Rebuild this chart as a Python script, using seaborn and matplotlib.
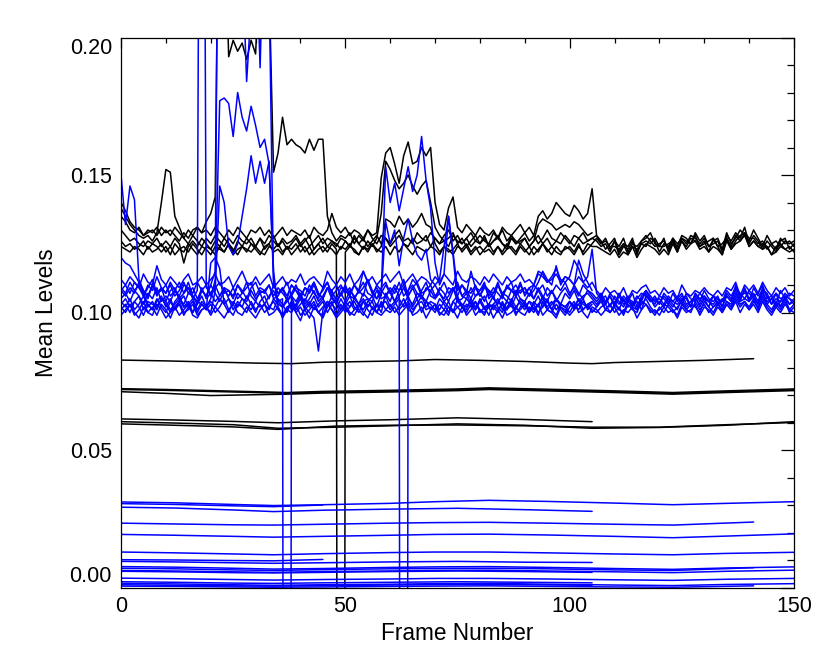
import numpy as np
import pandas as pd
import matplotlib
matplotlib.use("Agg")
import matplotlib.pyplot as plt
import seaborn as sns
from matplotlib.ticker import FixedLocator, MultipleLocator, FormatStrFormatter

# All level values below are listed in thousandths (1 unit = 0.001).
UNIT = 1e-3

X_LABEL = "Frame Number"
Y_LABEL = "Mean Levels"
X_TICKS = [0, 50, 100, 150]
Y_TICKS = [0.00, 0.05, 0.10, 0.15, 0.20]

# ---------------- noisy black series (one value per frame, starting at frame 0)
black_1 = [140,137,133,131,130,128,129,130,128,131,
           129,130,128,126,129,127,130,131,129,133,
           136,142,300,250,193,199,195,198,192,199,
           194,230,260,220,151,158,171,161,163,161,
           160,158,163,159,163,163,135,129,126,128,
           127,129,125,128,126,130,127,125,128,127,
           125,128,130,126,127,125,129,127,126,129,
           127,125,128,130,126,128,125,127,129,126,
           128,126,125,129,127,130,126,128,125,127,
           129,126,128,125,127,130,127,126,129,127,
           125,128,127,129,126,127,128,125,127,123,
           126,124,127,122,125,124,126,127,129,125,
           124,127,122,126,124,128,127,125,129,126,
           128,124,126,127,123,129,125,127,130,128,
           126,130,127,124,128,125,123,127,125,126,124]
black_2 = [138,135,132,130,128,127,128,126,129,140,
           152,151,135,131,127,125,128,126,124,127,
           125,128,126,124,127,125,128,126,125,127,
           124,127,125,128,126,124,127,125,126,128,
           125,127,124,126,128,125,127,126,124,127,
           126,124,128,125,127,124,126,128,125,127,
           124,126,128,125,124,127,125,126,128,124,
           127,125,126,124,128,126,125,127,124,126,
           125,128,124,126,127,125,124,128,126,125,
           127,124,126,128,125,127,124,126,125,128,
           126,124,127,125,126,127,126,124,125,122,
           126,121,124,123,126,122,125,124,127,126,
           122,125,124,127,123,126,124,127,126,124,
           126,122,127,124,121,127,123,126,128,129,
           124,126,124,125,124,121,124,125,123,124,122]
black_3 = [135,133,130,129,131,128,130,129,131,128,
           130,128,131,129,127,130,128,131,129,130,
           128,131,129,127,130,128,131,129,127,130,
           129,131,128,130,127,129,131,128,130,129,
           128,130,127,131,129,128,130,136,131,129,
           131,128,130,129,127,130,128,129,149,158,
           160,154,147,157,162,154,155,160,157,160,
           140,132,130,138,142,131,129,132,130,128,
           131,129,128,130,127,131,129,128,130,132,
           129,131,128,135,137,134,136,140,138,136,
           135,139,137,134,136,145,128,126,123,125,
           127,122,125,124,127,121,126,128,126,124,
           125,126,123,127,125,127,125,128,127,125,
           127,124,125,126,122,128,126,129,127,131,
           125,128,126,123,126,124,122,126,127,123,125]
black_4 = [130,128,126,127,125,124,126,125,127,124,
           126,124,127,125,118,124,126,124,127,125,
           123,126,124,127,125,122,126,124,127,125,
           124,127,123,125,128,124,126,123,125,127,
           124,126,128,123,125,127,124,126,125,123,
           126,124,127,125,123,126,124,127,136,155,
           152,148,145,147,150,146,143,146,148,140,
           131,128,126,127,129,125,127,124,126,128,
           125,127,124,126,128,125,123,127,125,126,
           127,124,126,132,134,133,132,130,131,132,
           131,133,132,130,128,129]
black_5 = [126,124,125,123,124,126,123,125,124,122,
           124,121,125,123,122,125,123,121,124,123,
           121,124,123,122,125,121,123,124,122,125,
           123,121,124,125,122,123,121,124,123,125,
           122,124,121,123,125,122,124,123,121,124,
           123,125,122,121,124,123,125,122,124,134,
           133,131,135,132,134,131,133,136,132,131,
           125,122,124,123,121,124,123,125,122,124,
           121,123,125,122,124,121,123,124,122,125,
           123,121,124,122,125,123,121,124,122,123,
           124,122,125,121,123,125,127,125,126,124,
           124,123,125,121,124,123,125,126,125,127,
           124,124,125,126,122,127,126,125,128,124,
           125,126,127,124,125,127,124,128,126,129,
           127,127,125,126,123,125,126,124,126,125,126]
black_6 = [124,123,122,124,123,121,124,122,123,125,
           122,124,121,123,124,122,125,123,121,124,
           123,121,124,122,125,123,121,124,123,122,
           124,122,121,124,123,125,122,124,121,123,
           125,122,124,121,123,124,122,125,123,-1000,
           122,124,123,121,124,122,125,123,122,124,
           121,124,122,125,123,121,124,123,122,124,
           123,121,124,122,123,125,122,124,121,123,
           124,122,123,121,124,122,125,123,121,124,
           122,124,121,123,125,122,124,122,121,124,
           123,121,124,122,125,124,124,123,122,121,
           123,120,122,121,124,120,123,125,124,123,
           121,123,121,125,122,126,123,125,126,123,
           124,122,124,123,121,126,123,125,126,128,
           124,126,124,123,124,121,122,124,123,122,123]

# ---------------- noisy blue series (one value per frame, starting at frame 0)
blue_1 = [150,132,146,141,112,108,105,110,106,109,
          104,108,109,105,107,111,106,103,108,106,
          110,107,104,108,106,109,105,107,111,106,
          104,108,107,110,105,106,109,104,107,110,
          106,104,108,111,107,105,109,108,104,107,
          110,106,105,108,106,112,108,105,107,110,
          107,104,108,110,106,109,105,108,111,106,
          105,109,107,104,108,110,106,105,109,106,
          108,111,105,107,110,106,104,108,107,111,
          106,109,105,108,110,106,108,104,107,109,
          106,110,107,105,108,106,104,106,103,107,
          105,103,106,104,107,102,106,108,105,103,
          106,105,103,107,104,106,105,102,107,104,
          108,105,104,106,102,107,105,108,104,109,
          105,107,104,109,106,103,107,105,106,103,105]
blue_2 = [120,118,117,114,111,107,103,101,104,106,
          102,105,101,104,106,102,100,104,103,101,
          118,120,116,103,105,101,104,102,106,103,
          100,104,106,102,101,105,103,100,104,102,
          105,101,103,106,102,104,100,103,105,101,
          103,106,102,100,104,105,101,103,102,106,
          102,104,101,103,106,102,105,100,104,103,
          101,105,103,100,104,106,102,101,105,102,
          104,101,103,106,102,100,104,103,101,105,
          103,100,104,102,106,101,103,105,102,100,
          104,102,105,101,103,104,102,105,101,103,
          104,101,105,102,103,104,101,106,105,102,
          104,102,105,103,101,105,102,104,106,102,
          105,104,102,103,105,104,103,107,104,105,
          104,106,103,107,104,105,102,104,105,103,104]
blue_3 = [109,107,111,108,110,106,109,112,107,108,
          110,106,108,111,107,109,105,108,500,109,
          107,110,106,109,108,105,110,107,109,111,
          106,109,108,105,110,107,108,111,106,109,
          108,106,110,107,105,109,111,106,108,110,
          107,109,105,108,111,107,106,110,108,106,
          109,107,111,106,108,110,107,105,109,108,
          110,107,105,109,108,111,106,108,107,110,
          106,109,108,105,110,107,109,111,106,108,
          109,106,110,108,105,109,107,110,108,111,
          107,109,106,110,108,107,105,107,104,106,
          103,107,104,106,102,105,107,106,104,105,
          103,107,105,104,106,103,107,105,104,107,
          105,102,106,105,104,108,106,109,107,105,
          108,106,107,110,105,106,103,108,105,107,106]
blue_4 = [104,102,105,101,103,106,102,104,101,105,
          103,100,104,106,102,103,105,101,104,102,
          105,112,177,178,176,164,180,171,166,175,
          168,160,163,154,112,104,102,105,101,103,
          106,102,104,101,103,105,102,106,103,101,
          104,102,105,103,101,104,106,102,107,153,
          140,147,137,145,153,144,150,164,148,138,
          118,110,114,135,121,104,102,105,103,101,
          104,106,102,103,105,101,104,102,106,103,
          101,104,103,106,102,104,101,105,103,102,
          104,101,105,103,102,104]
blue_5 = [102,100,103,99,101,104,100,102,99,103,
          101,98,102,104,100,101,103,99,101,102,
          100,108,146,140,124,121,125,135,145,157,
          147,155,147,155,115,102,99,101,104,100,
          102,99,101,103,100,98,102,104,99,101,
          103,100,99,102,104,101,99,103,100,107,
          104,109,106,-1000,108,112,110,106,104,101,
          103,99,101,104,100,102,103,99,101,104,
          100,102,99,103,101,98,102,104,100,101,
          103,100,102,99,104,101,100,103,101,99,
          102,104,100,101,103,100,102,104,101,103,
          100,102,99,103,101,100,104,103,101,99,
          102,100,103,101,99,103,101,100,104,101,
          103,100,102,104,100,103,101,105,102,104,
          101,104,102,105,102,100,103,101,104,100,102]
blue_6 = [108,110,107,111,109,106,110,108,113,109,
          107,111,108,106,110,109,107,111,108,106,
          110,115,350,250,220,240,210,230,184,210,
          240,189,250,220,110,107,109,106,110,108,
          105,109,107,110,106,108,111,107,105,109,
          108,106,110,107,109,112,107,105,109,111,
          107,110,108,112,106,109,111,107,108,110,
          106,108,111,107,109,106,110,108,105,109,
          108,110,106,109,107,105,110,108,106,110,
          107,109,110,115,114,111,113,116,112,111,
          113,119,116,111,113,123,107,105,103,106,
          102,106,103,105,104,101,105,107,104,106,
          103,106,104,102,105,107,103,104,105,103,
          106,104,103,105,102,106,104,110,105,108,
          104,109,106,108,103,105,107,102,106,105,103]
blue_7 = [105,107,104,108,106,103,107,105,109,104,
          106,104,108,105,103,107,106,104,109,105,
          107,104,106,109,105,103,107,105,104,108,
          105,107,103,106,108,104,105,-1000,106,104,
          107,103,105,108,104,106,109,105,103,107,
          104,108,106,103,107,105,104,108,105,106,
          108,104,106,109,105,103,107,106,104,108,
          105,107,104,106,109,104,105,107,103,106,
          107,104,108,105,103,107,106,104,108,105,
          104,107,105,109,106,104,108,105,103,107,
          105,108,104,106,107,105,103,105,106,102,
          106,104,102,105,103,106,104,108,106,104,
          105,103,106,104,103,105,106,102,107,105,
          106,104,106,103,104,106,104,109,106,107,
          107,105,103,108,107,103,105,104,107,105,104]
blue_8 = [101,103,100,104,102,99,103,101,105,102,
          100,104,101,103,99,102,104,100,103,101,
          103,100,102,105,101,99,103,102,100,104,
          101,103,100,102,104,101,99,102,103,100,
          97,102,100,98,86,101,104,101,99,103,
          100,102,104,101,99,103,102,100,104,101,
          103,100,102,105,101,100,103,104,101,102,
          100,103,101,99,104,102,100,103,102,104,
          101,99,103,102,100,104,101,103,99,102,
          104,101,103,100,102,105,101,99,103,102,
          100,103,101,104,102,101,100,102,103,100,
          103,101,100,104,102,101,103,105,102,100,
          101,103,102,100,102,104,101,103,102,100,
          104,102,100,103,101,104,102,106,103,104,
          102,105,101,106,103,101,104,102,105,101,103]
blue_9 = [108,106,109,107,111,108,106,110,107,109,
          107,110,106,108,111,107,109,105,108,110,
          106,109,111,107,108,106,110,108,105,109,
          111,107,108,110,106,109,107,105,110,108,
          106,109,108,111,107,105,109,108,110,106,
          109,107,110,108,115,111,107,109,106,133,
          125,130,117,127,134,126,121,119,123,112,
          110,112,124,135,122,108,110,107,115,109,
          106,110,108,107,111,106,109,108,110,107,
          109,106,108,111,115,112,110,117,110,113,
          112,110,119,114,111,108]
blue_10 = [99,101,103,100,98,102,100,99,103,101,
           98,100,102,99,101,103,99,98,101,102,
           99,102,100,98,101,103,100,99,102,100,
           98,101,103,99,100,102,98,101,100,103,
           99,101,98,102,100,99,103,101,98,100,
           102,99,101,103,100,98,102,100,99,101,
           100,102,99,101,103,99,100,102,98,101,
           103,100,99,102,101,98,102,100,103,99,
           101,100,102,98,101,103,99,100,102,100,
           99,102,100,103,99,101,100,98,102,101,
           99,101,103,100,98,102,101,99,101,100,
           102,99,101,100,102,98,101,103,100,101,
           99,102,100,101,98,102,100,101,103,99,
           102,101,99,102,100,103,101,104,100,103,
           101,103,100,104,101,99,102,100,103,101,100]
blue_11 = [112,110,113,111,109,114,111,110,117,112,
           110,113,111,109,112,114,110,111,113,110,
           112,114,110,111,113,109,112,115,111,110,
           113,110,112,114,109,111,113,110,112,111,
           114,110,112,113,111,109,115,112,110,113,
           111,114,110,112,115,111,113,110,112,114,
           111,113,115,110,112,114,111,113,112,110,
           113,111,114,112,110,115,112,111,113,112,
           110,113,111,114,112,110,113,111,112,114,
           111,112,110,114,113,111,112,114,111,113,
           112,110,113,111,109,111,108,106,109,107,
           108,106,109,105,108,107,109,110,107,108,
           106,109,107,108,105,110,107,106,108,107,
           109,107,106,108,106,109,108,111,106,110,
           108,110,107,111,108,106,109,107,109,106,108]
blue_12 = [103,105,102,104,106,101,104,103,102,105,
           104,101,103,105,102,104,100,103,106,102,
           104,102,105,103,100,104,102,105,103,101,
           104,102,103,101,105,103,102,104,106,101,
           103,105,102,104,100,102,104,103,101,105,
           102,104,101,103,105,102,104,100,103,104,
           101,103,105,102,104,101,103,106,102,104,
           103,101,104,102,100,105,103,102,104,101,
           105,102,103,101,104,103,101,105,102,104,
           102,104,101,103,105,102,104,101,103,102,
           104,102,103,105,101,103]

# ---------------- smooth black series (frame, level)
flat_frames_a = [0, 10, 20, 30, 38, 45, 55, 62, 70, 80, 90, 100, 105, 110, 120, 130, 141]
black_flat_1 = [82.7, 82.4, 82.0, 81.6, 81.4, 81.9, 82.2, 82.4, 82.9, 82.6, 82.2, 81.6, 81.4, 81.8, 82.2, 82.6, 83.2]
flat_frames_b = [0, 10, 20, 30, 37, 45, 60, 75, 82, 95, 110, 123, 135, 150]
black_flat_2 = [72.0, 71.7, 71.3, 70.9, 70.6, 71.0, 71.4, 71.9, 72.3, 71.8, 71.2, 70.6, 71.2, 71.9]
black_flat_3 = [71.2, 70.6, 69.8, 70.1, 70.3, 70.7, 71.1, 71.6, 72.0, 71.5, 70.9, 70.3, 70.9, 71.6]
black_flat_4 = [72.3, 72.0, 71.6, 71.2, 70.9, 71.3, 71.7, 72.2, 72.6, 72.1, 71.5, 70.9, 71.5, 72.2]
flat_frames_c = [0, 12, 25, 35, 48, 60, 75, 90, 105]
black_flat_5 = [61.3, 60.9, 60.4, 59.9, 60.6, 61.0, 61.7, 61.1, 60.3]
flat_frames_d = [0, 12, 25, 35, 48, 60, 75, 90, 105, 120, 135, 150]
black_flat_6 = [60.3, 59.8, 59.2, 57.9, 58.3, 58.8, 59.5, 59.0, 57.9, 58.2, 59.0, 60.3]
black_flat_7 = [59.5, 59.0, 58.4, 57.5, 58.7, 59.0, 59.1, 58.8, 58.3, 58.3, 59.2, 60.0]

# ---------------- smooth blue series (frame, level)
flat_frames_e = [0, 12, 25, 34, 45, 60, 70, 82, 95, 110, 123, 135, 150]
flat_frames_f = [0, 12, 25, 34, 45, 60, 75, 90, 105]
flat_frames_g = [0, 12, 25, 34, 45]
flat_frames_h = [0, 12, 25, 34, 45, 60, 70, 82, 95, 110, 123, 141]
blue_flat_1 = [31.1, 30.8, 30.2, 29.8, 30.1, 30.6, 31.2, 31.7, 31.3, 30.7, 30.1, 30.6, 31.2]
blue_flat_2 = [29.2, 28.9, 28.2, 27.6, 28.1, 28.5, 28.8, 28.3, 27.7]
blue_flat_3 = [30.5, 30.2, 29.7, 29.4, 30.0]
blue_flat_4 = [23.4, 23.1, 22.8, 22.7, 23.0, 23.4, 23.6, 23.7, 23.4, 23.0, 22.7, 23.8]
blue_flat_5 = [19.3, 19.0, 18.6, 18.3, 18.6, 19.0, 19.3, 19.4, 19.1, 18.6, 18.1, 18.7, 19.5]
blue_flat_6 = [12.9, 12.6, 12.2, 11.9, 12.3, 12.7, 12.9, 12.9, 12.6, 12.2, 11.9, 12.4, 12.8]
blue_flat_7 = [10.1, 10.0, 9.8, 9.7, 10.2]
blue_flat_8 = [9.5, 9.3, 9.0, 8.8, 9.0, 9.3, 9.5, 9.2, 9.1]
blue_flat_9 = [7.6, 7.4, 7.0, 6.7, 6.9, 7.3, 7.5, 7.6, 7.3, 6.9, 6.6, 7.1, 7.5]
blue_flat_10 = [7.0, 6.8, 6.4, 6.2, 6.5, 6.8, 6.9, 7.0, 6.8, 6.4, 6.2, 7.2]
blue_flat_11 = [6.2, 6.0, 5.7, 5.5, 5.8, 6.0, 6.2, 6.3, 6.0, 5.7, 5.4, 5.9, 6.3]
blue_flat_12 = [5.9, 5.7, 5.4, 5.3, 5.5, 5.8, 6.0, 5.8, 5.5]
blue_flat_13 = [3.4, 3.2, 2.9, 2.7, 2.9, 3.1, 3.3, 3.3, 3.1, 2.8, 2.6, 3.0, 3.3]
blue_flat_14 = [2.1, 1.9, 1.6, 1.5, 1.7, 1.9, 2.1, 1.9, 1.7]
blue_flat_15 = [1.5, 1.3, 1.0, 0.8, 1.0, 1.2, 1.4, 1.5, 1.2, 0.9, 0.7, 1.1, 1.4]
blue_flat_16 = [1.0, 0.8, 0.6, 0.5, 0.7, 0.9, 1.1, 1.0, 0.8]
blue_flat_17 = [0.5, 0.4, 0.2, 0.1, 0.2, 0.4, 0.5, 0.6, 0.4, 0.2, 0.1, 0.6]

BLACK = "#000000"
BLUE = "#0000ff"

series = []  # (name, frames, values, color)
for i, v in enumerate([black_1, black_2, black_3, black_4, black_5, black_6], 1):
    series.append((f"k{i}", list(range(len(v))), v, BLACK))
for name, fr, v in [("kf1", flat_frames_a, black_flat_1), ("kf2", flat_frames_b, black_flat_2),
                    ("kf3", flat_frames_b, black_flat_3), ("kf4", flat_frames_b, black_flat_4),
                    ("kf5", flat_frames_c, black_flat_5), ("kf6", flat_frames_d, black_flat_6),
                    ("kf7", flat_frames_d, black_flat_7)]:
    series.append((name, fr, v, BLACK))
for i, v in enumerate([blue_1, blue_2, blue_3, blue_4, blue_5, blue_6, blue_7, blue_8,
                       blue_9, blue_10, blue_11, blue_12], 1):
    series.append((f"b{i}", list(range(len(v))), v, BLUE))
for name, fr, v in [("bf1", flat_frames_e, blue_flat_1), ("bf2", flat_frames_f, blue_flat_2),
                    ("bf3", flat_frames_g, blue_flat_3), ("bf4", flat_frames_h, blue_flat_4),
                    ("bf5", flat_frames_e, blue_flat_5), ("bf6", flat_frames_e, blue_flat_6),
                    ("bf7", flat_frames_g, blue_flat_7), ("bf8", flat_frames_f, blue_flat_8),
                    ("bf9", flat_frames_e, blue_flat_9), ("bf10", flat_frames_h, blue_flat_10),
                    ("bf11", flat_frames_e, blue_flat_11), ("bf12", flat_frames_f, blue_flat_12),
                    ("bf13", flat_frames_e, blue_flat_13), ("bf14", flat_frames_f, blue_flat_14),
                    ("bf15", flat_frames_e, blue_flat_15), ("bf16", flat_frames_f, blue_flat_16),
                    ("bf17", flat_frames_h, blue_flat_17)]:
    series.append((name, fr, v, BLUE))

rows = []
for name, fr, vals, col in series:
    n = min(len(fr), len(vals))
    for f, val in zip(fr[:n], vals[:n]):
        rows.append((name, f, val * UNIT))
df = pd.DataFrame(rows, columns=["series", "frame", "level"])
palette = {name: col for name, fr, vals, col in series}
order = [s[0] for s in series]

sns.set_theme(style="white")
plt.rcParams["font.family"] = ["Liberation Sans", "DejaVu Sans"]

FS = 15.5
FS_LABEL = 16.3
fig = plt.figure(figsize=(8.3, 6.64), dpi=100)
ax = fig.add_axes([121 / 830, 1 - 587.5 / 664, (794 - 121) / 830, (587.5 - 37.5) / 664])

sns.lineplot(data=df, x="frame", y="level", hue="series", hue_order=order,
             palette=palette, estimator=None, legend=False, linewidth=1.1,
             ax=ax, sort=False)

ax.set_xlim(0, 150)
ax.set_ylim(0, 0.20)
ax.xaxis.set_major_locator(FixedLocator(X_TICKS))
ax.xaxis.set_minor_locator(MultipleLocator(10))
ax.yaxis.set_major_locator(FixedLocator(Y_TICKS))
ax.yaxis.set_minor_locator(MultipleLocator(0.01))
ax.xaxis.set_major_formatter(FormatStrFormatter("%d"))
ax.yaxis.set_major_formatter(FormatStrFormatter("%.2f"))

ax.tick_params(axis="both", which="both", direction="in", top=True, right=True,
               color="black", width=0.9, labelsize=FS, labelcolor="black")
ax.tick_params(axis="x", which="major", length=7.2, pad=6)
ax.tick_params(axis="x", which="minor", length=3.6)
ax.tick_params(axis="y", which="major", length=9.4, pad=6.5)
ax.tick_params(axis="y", which="minor", length=5.0)

for sp in ax.spines.values():
    sp.set_color("black")
    sp.set_linewidth(0.9)
    sp.set_visible(True)

ax.set_xlabel(X_LABEL, fontsize=FS_LABEL, labelpad=4, color="black")
ax.set_ylabel(Y_LABEL, fontsize=FS_LABEL, labelpad=8, color="black")

ylabels = ax.get_yticklabels()
ylabels[0].set_va("bottom")
ylabels[-1].set_va("top")

fig.savefig("out.png", dpi=100, facecolor="white")
